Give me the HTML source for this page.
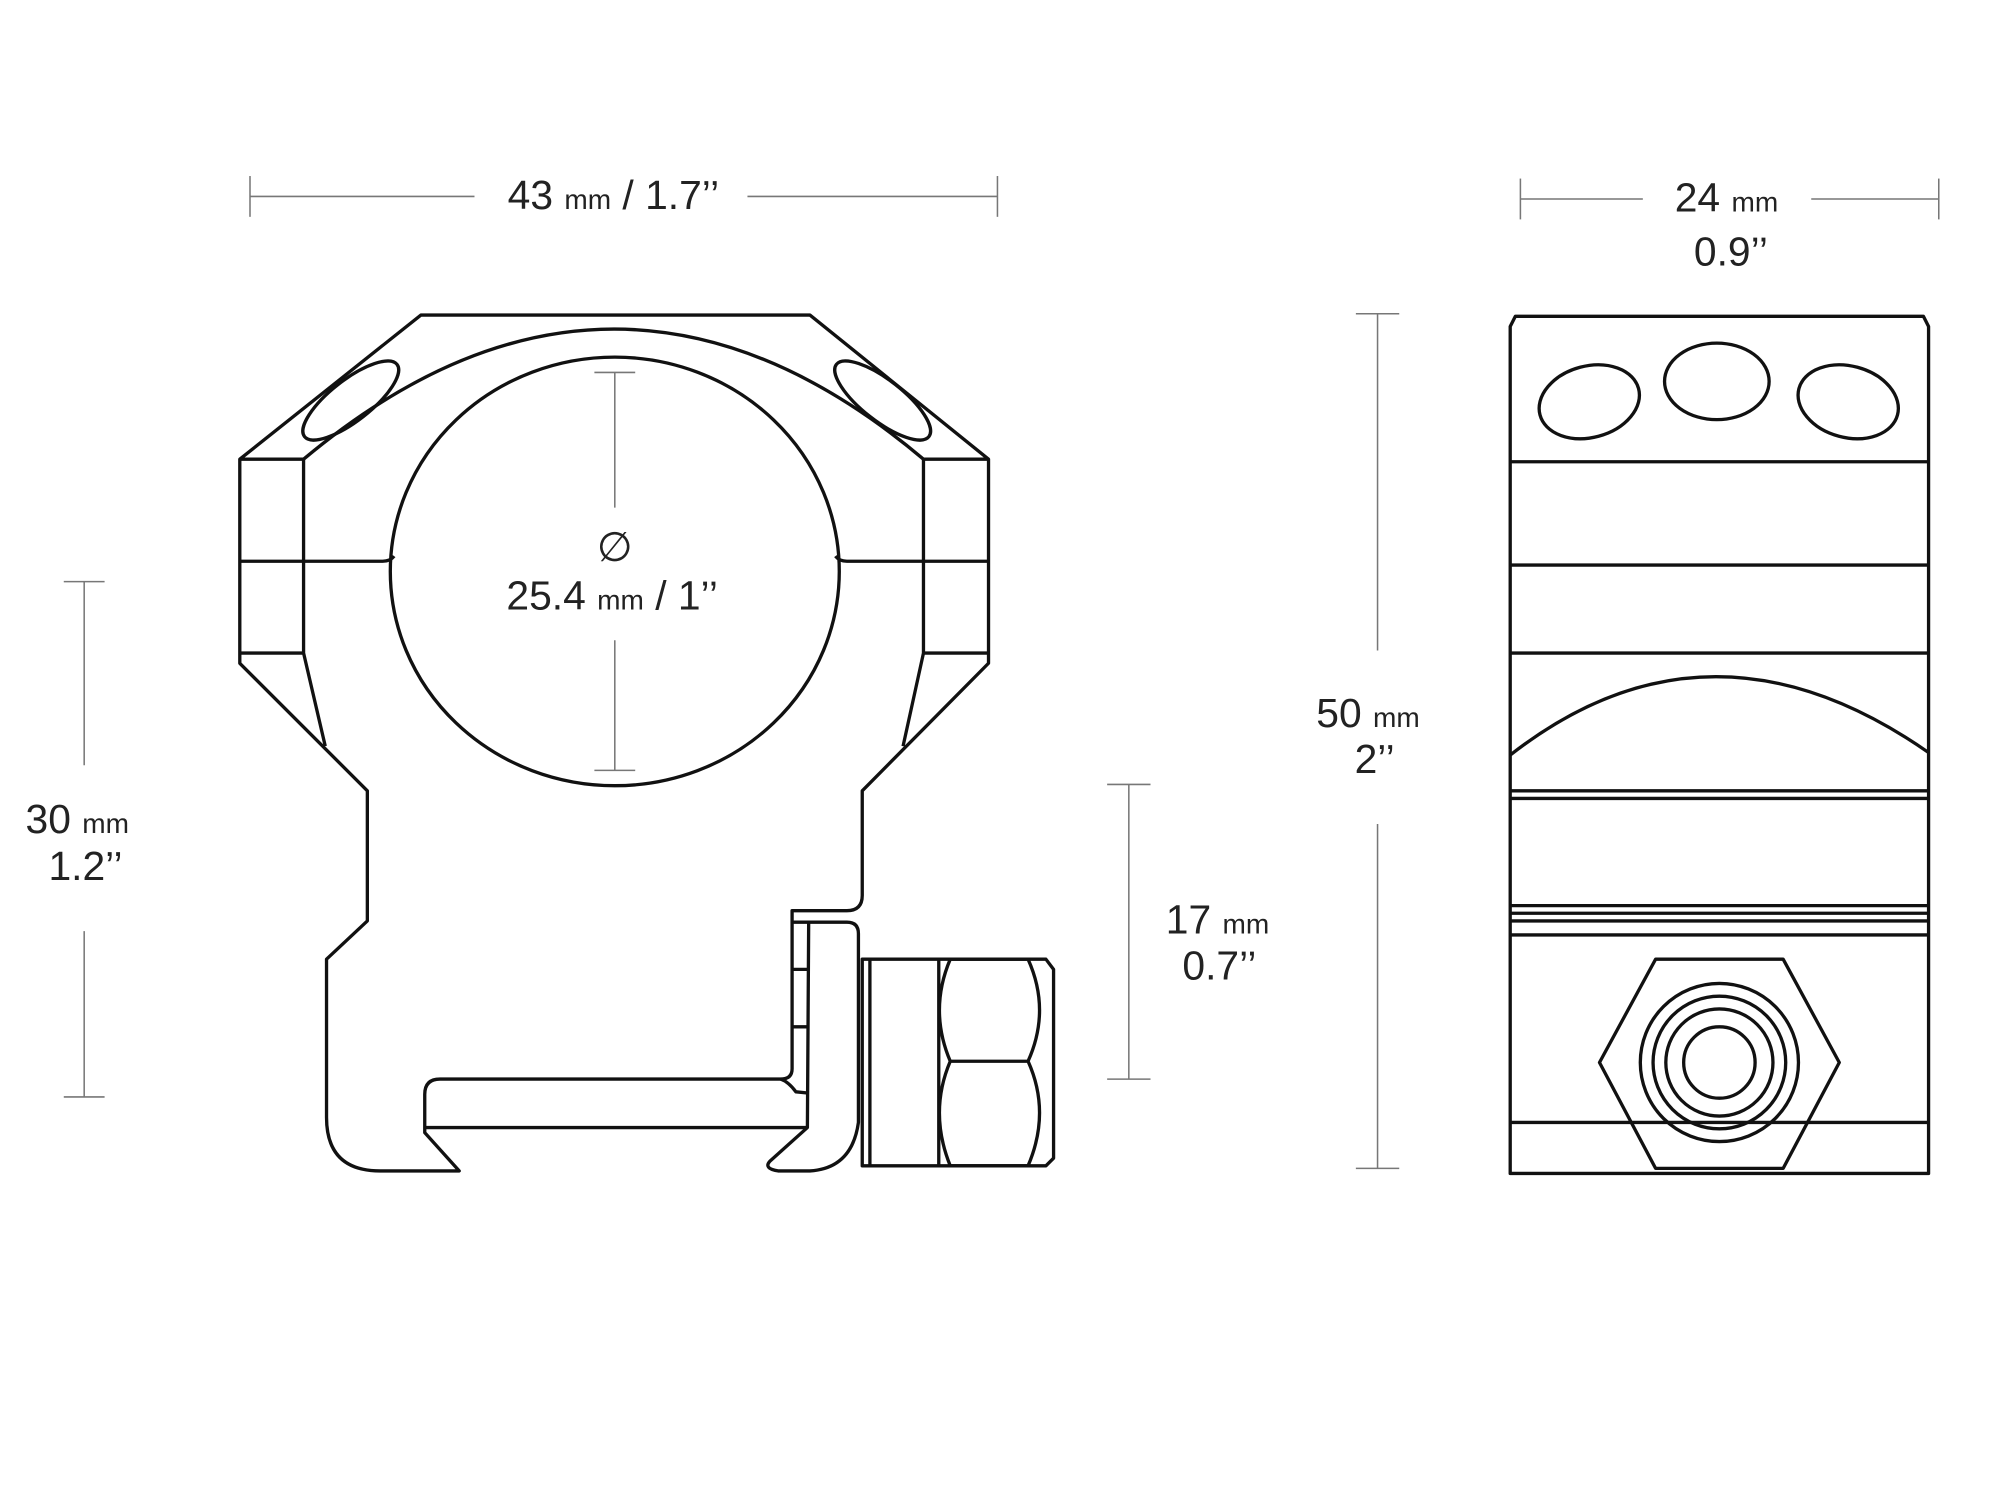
<!DOCTYPE html>
<html><head><meta charset="utf-8"><style>
html,body{margin:0;padding:0;background:#fff;width:2000px;height:1500px;overflow:hidden}
svg{display:block}
text{font-family:"Liberation Sans",sans-serif;fill:#222;font-weight:300}
</style></head><body>
<svg width="2000" height="1500" viewBox="0 0 1568 1176" xmlns="http://www.w3.org/2000/svg">
<g stroke="#777" stroke-width="1.2" fill="none">
 <line x1="196" y1="154" x2="372" y2="154"/><line x1="586" y1="154" x2="782" y2="154"/>
 <line x1="196" y1="138" x2="196" y2="170"/><line x1="782" y1="138" x2="782" y2="170"/>
 <line x1="1192" y1="156" x2="1288" y2="156"/><line x1="1420" y1="156" x2="1520" y2="156"/>
 <line x1="1192" y1="140" x2="1192" y2="172"/><line x1="1520" y1="140" x2="1520" y2="172"/>
 <line x1="66" y1="456" x2="66" y2="600"/><line x1="66" y1="730" x2="66" y2="860"/>
 <line x1="50" y1="456" x2="82" y2="456"/><line x1="50" y1="860" x2="82" y2="860"/>
 <line x1="482" y1="292" x2="482" y2="398"/><line x1="482" y1="502" x2="482" y2="604"/>
 <line x1="466" y1="292" x2="498" y2="292"/><line x1="466" y1="604" x2="498" y2="604"/>
 <line x1="885" y1="615" x2="885" y2="846"/><line x1="868" y1="615" x2="902" y2="615"/><line x1="868" y1="846" x2="902" y2="846"/>
 <line x1="1080" y1="246" x2="1080" y2="510"/><line x1="1080" y1="646" x2="1080" y2="916"/>
 <line x1="1063" y1="246" x2="1097" y2="246"/><line x1="1063" y1="916" x2="1097" y2="916"/>
</g>
<g font-size="32">
 <text x="398" y="164">43 <tspan font-size="22">mm</tspan> / 1.7’’</text>
 <text x="1313" y="166">24 <tspan font-size="22">mm</tspan></text>
 <text x="1328" y="208">0.9’’</text>
 <text x="20" y="653">30 <tspan font-size="22">mm</tspan></text>
 <text x="38" y="690">1.2’’</text>
 <text x="468" y="440">∅</text>
 <text x="397" y="478">25.4 <tspan font-size="22">mm</tspan> / 1’’</text>
 <text x="914" y="732">17 <tspan font-size="22">mm</tspan></text>
 <text x="927" y="768">0.7’’</text>
 <text x="1032" y="570">50 <tspan font-size="22">mm</tspan></text>
 <text x="1062" y="606">2’’</text>
</g>
<g stroke="#111" stroke-width="2.6" fill="none" stroke-linejoin="round">
 <!-- left view body -->
 <path d="M330,247 L635,247 L775,360 L775,520 L676,620 L676,702 Q676,714 664,714 L621,714 L621,838 Q621,846 612,846 L345,846 Q333,846 333,858 L333,888 L360,918 L298,918 Q256,918 256,876 L256,752 L288,722 L288,620 L188,520 L188,360 Z"/>
 <path d="M612,846 Q618,848 624,856 L634,857"/>
 <!-- lever -->
 <path d="M621,723 L664,723 Q673,723 673,732 L673,880 Q668,916 635,918 L610,918 Q598,916 604,910 L633,884 L634,723"/>
 <path d="M621,760 L634,760 M621,805 L634,805 M333,884 L633,884"/>
 <path d="M238,360 L238,512 L255,585 M188,512 L238,512 M724,360 L724,512 L708,585 M724,512 L775,512 M188,360 L238,360 M724,360 L775,360"/>
 <path d="M188,440 L300,440 Q306,440 309,436 M655,436 Q658,440 664,440 L775,440 M238,360 Q482,156 724,360"/>
 <ellipse cx="482" cy="448" rx="176" ry="168"/>
 <ellipse cx="275" cy="314" rx="46" ry="16" transform="rotate(-38 275 314)"/>
 <ellipse cx="692" cy="314" rx="46" ry="16" transform="rotate(38 692 314)"/>
 <!-- nut -->
 <path d="M676,752 L820,752 L826,760 L826,908 L820,914 L676,914 Z M682,752 L682,914 M736,752 L736,914"/>
 <path d="M745,752 L806,752 Q824,792 806,832 L745,832 Q728,792 745,752 Z M745,832 L806,832 Q824,872 806,914 L745,914 Q728,872 745,832 Z"/>
 <!-- right view -->
 <path d="M1188,248 L1508,248 L1512,256 L1512,920 L1184,920 L1184,256 Z"/>
 <path d="M1184,362 L1512,362 M1184,443 L1512,443 M1184,512 L1512,512 M1184,620 L1512,620 M1184,626 L1512,626 M1184,710 L1512,710 M1184,716 L1512,716 M1184,722 L1512,722 M1184,733 L1512,733 M1184,880 L1512,880"/>
 <path d="M1184,592 Q1340,470 1512,590"/>
 <ellipse cx="1246" cy="315" rx="40" ry="28" transform="rotate(-15 1246 315)"/>
 <ellipse cx="1346" cy="299" rx="41" ry="30"/>
 <ellipse cx="1449" cy="315" rx="40" ry="28" transform="rotate(15 1449 315)"/>
 <path d="M1298,752 L1398,752 L1442,833 L1398,916 L1298,916 L1254,833 Z"/>
 <circle cx="1348" cy="833" r="62"/><circle cx="1348" cy="833" r="52"/><circle cx="1348" cy="833" r="42"/><circle cx="1348" cy="833" r="28"/>
</g>
</svg>
</body></html>
